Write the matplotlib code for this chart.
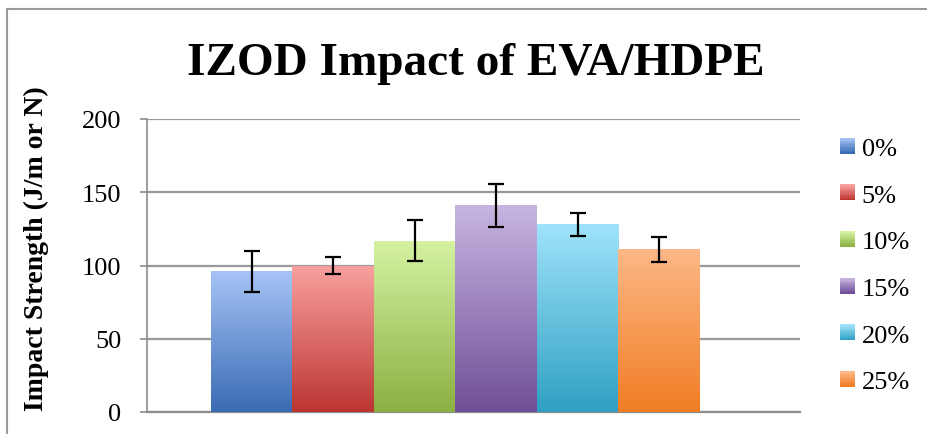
import matplotlib
matplotlib.use('Agg')
import matplotlib.pyplot as plt
import numpy as np
from matplotlib.patches import Rectangle
from matplotlib.colors import LinearSegmentedColormap, to_rgb
from matplotlib.legend_handler import HandlerBase

# datos
series = ['0%', '5%', '10%', '15%', '20%', '25%']
valores = [96, 100, 117, 141, 128, 111]
errores = [14, 6, 14, 14.5, 8, 8.5]
# colores (arriba claro, abajo oscuro)
col_arriba = ['#a6c3f5', '#f9a19f', '#d6f2a2', '#c6b5e1', '#9fe3fb', '#fdb886']
col_abajo = ['#3a6cb4', '#bc3532', '#8bb042', '#714f98', '#30a0c2', '#f07d24']

titulo = 'IZOD Impact of EVA/HDPE'
etiqueta_y = 'Impact Strength (J/m or N)'

plt.rcParams['font.family'] = ['Liberation Serif', 'DejaVu Serif']


class HandlerDegradado(HandlerBase):
    # cuadrito de leyenda con degradado vertical (franjas finas)
    def create_artists(self, legend, orig_handle, xdescent, ydescent, width, height, fontsize, trans):
        c1, c2 = orig_handle
        a, b = np.array(to_rgb(c1)), np.array(to_rgb(c2))
        n = 12
        artistas = []
        for i in range(n):
            t = i / (n - 1)
            col = b + (a - b) * t
            r = Rectangle((-xdescent, -ydescent + height * i / n), width, height / n + 0.3,
                          facecolor=col, edgecolor='none', transform=trans)
            artistas.append(r)
        return artistas


fig = plt.figure(figsize=(9.28, 4.35), dpi=100)
ax = fig.add_axes([147 / 928, 1 - 413 / 435, 653 / 928, 293 / 435])

x = np.arange(len(series))
barras = ax.bar(x, valores, width=1.0, color='none', edgecolor='none', zorder=3)

# relleno degradado para cada barra
for rect, c1, c2 in zip(barras, col_arriba, col_abajo):
    x0, y0 = rect.get_x(), rect.get_y()
    w, h = rect.get_width(), rect.get_height()
    cmap = LinearSegmentedColormap.from_list('g', [c2, c1])
    grad = np.linspace(0, 1, 256).reshape(-1, 1)
    im = ax.imshow(grad, cmap=cmap, extent=(x0, x0 + w, y0, y0 + h),
                   origin='lower', aspect='auto', zorder=3, interpolation='bicubic')
    im.set_clip_path(rect)

ax.errorbar(x, valores, yerr=errores, fmt='none', ecolor='black',
            elinewidth=1.6, capsize=6, capthick=1.6, zorder=5)

ax.set_xlim(-1.285, 6.727)
ax.set_ylim(0, 200)
ax.set_yticks([0, 50, 100, 150, 200])
ax.set_xticks([])
ax.yaxis.grid(True, color='#9a9a9a', linewidth=1.6)
ax.set_axisbelow(True)
for lado in ['top', 'right']:
    ax.spines[lado].set_visible(False)
ax.spines['left'].set_color('#8c8c8c')
ax.spines['bottom'].set_color('#8c8c8c')
ax.spines['left'].set_linewidth(1.2)
ax.spines['bottom'].set_linewidth(1.6)
ax.tick_params(axis='y', length=5, width=1.2, color='#8c8c8c', labelsize=19, pad=13.5)
ax.set_facecolor('none')

fig.text(476 / 928, 1 - 75 / 435, titulo, ha='center', va='baseline',
         fontsize=34, fontweight='bold')
fig.text(36 / 928, 1 - 249 / 435, etiqueta_y, ha='center', va='center',
         rotation=90, fontsize=20, fontweight='bold')

# leyenda
manejadores = list(zip(col_arriba, col_abajo))
fig.legend(manejadores, series, loc='upper left', bbox_to_anchor=(840 / 928, 1 - 139 / 435),
           handler_map={tuple: HandlerDegradado()},
           frameon=False, fontsize=19, handlelength=0.57, handleheight=0.53,
           handletextpad=0.25, labelspacing=0.93, borderpad=0, borderaxespad=0)

# marco del grafico
fig.add_artist(Rectangle((7 / 928, -0.1), 1.0, 1 - 10 / 435 + 0.1, transform=fig.transFigure,
                         fill=False, edgecolor='#9a9a9a', linewidth=1.5))

fig.savefig('out.png', dpi=100)
